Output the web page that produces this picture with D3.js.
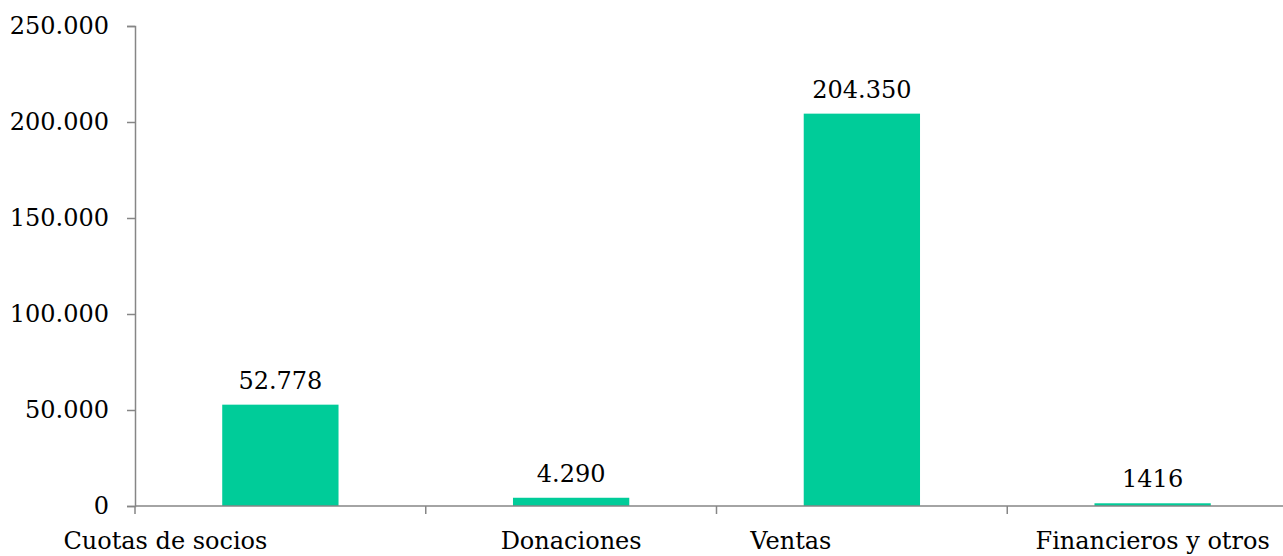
<!DOCTYPE html>
<html>
<head>
<meta charset="utf-8">
<script src="https://cdn.jsdelivr.net/npm/d3@7"></script>
<style>
  body { margin: 0; background: #fff; }
  text { font-family: "DejaVu Serif", serif; font-size: 24px; fill: #000; }
</style>
</head>
<body>
<div id="chart"></div>
<script>
var categories = ["Cuotas de socios", "Donaciones", "Ventas", "Financieros y otros"];
var values = [52778, 4290, 204350, 1416];
var valueLabels = ["52.778", "4.290", "204.350", "1416"];
var yTicks = [0, 50000, 100000, 150000, 200000, 250000];

var width = 1283, height = 556;
var margin = {top: 26, right: -15, bottom: 50, left: 135};
var innerW = width - margin.left - margin.right,
    innerH = height - margin.top - margin.bottom;

// label nudges, the source chart has them off-centre
var labelShift = [-115, 0, -71, 0];

var locale = d3.formatLocale({decimal: ",", thousands: ".", grouping: [3], currency: ["", "€"]});
var fmt = locale.format(",");

var x = d3.scaleBand().domain(categories).range([0, innerW]).paddingInner(0).paddingOuter(0);
var y = d3.scaleLinear().domain([0, 250000]).range([innerH, 0]);

var svg = d3.select("#chart").append("svg")
    .attr("width", width)
    .attr("height", height)
  .append("g")
    .attr("transform", "translate(" + margin.left + "," + margin.top + ")");

// bars
var barW = x.bandwidth() * 0.4;
svg.selectAll("rect.bar")
    .data(values)
  .enter().append("rect")
    .attr("class", "bar")
    .attr("x", function(d, i) { return x(categories[i]) + x.bandwidth() / 2 - barW / 2; })
    .attr("y", function(d) { return y(d); })
    .attr("width", barW)
    .attr("height", function(d) { return innerH - y(d); })
    .style("fill", "#00CC99");

// value labels
svg.selectAll("text.val")
    .data(values)
  .enter().append("text")
    .attr("class", "val")
    .attr("text-anchor", "middle")
    .attr("x", function(d, i) { return x(categories[i]) + x.bandwidth() / 2; })
    .attr("y", function(d) { return y(d) - 16; })
    .text(function(d, i) { return valueLabels[i]; });

// y axis
var yAxis = svg.append("g")
    .call(d3.axisLeft(y).tickValues(yTicks).tickSize(8).tickPadding(18).tickFormat(fmt));
yAxis.selectAll("text").style("font-size", "24px").style("font-family", "DejaVu Serif, serif").attr("fill", "#000");

// x axis with ticks on band edges
var xg = svg.append("g").attr("transform", "translate(0," + innerH + ")");
xg.append("line")
    .attr("x1", 0).attr("x2", innerW)
    .attr("y1", 0).attr("y2", 0);
var edges = categories.map(function(c) { return x(c); }).concat([innerW]);
xg.selectAll("line.tk")
    .data(edges)
  .enter().append("line")
    .attr("class", "tk")
    .attr("x1", function(d) { return d; }).attr("x2", function(d) { return d; })
    .attr("y1", 0).attr("y2", 8);
xg.selectAll("text.cat")
    .data(categories)
  .enter().append("text")
    .attr("class", "cat")
    .attr("text-anchor", "middle")
    .attr("x", function(d, i) { return x(d) + x.bandwidth() / 2 + labelShift[i]; })
    .attr("y", 43)
    .text(function(d) { return d; });

svg.selectAll(".domain, .tick line, g line")
    .attr("stroke", "#868686")
    .attr("stroke-width", 1.5);
</script>
</body>
</html>
